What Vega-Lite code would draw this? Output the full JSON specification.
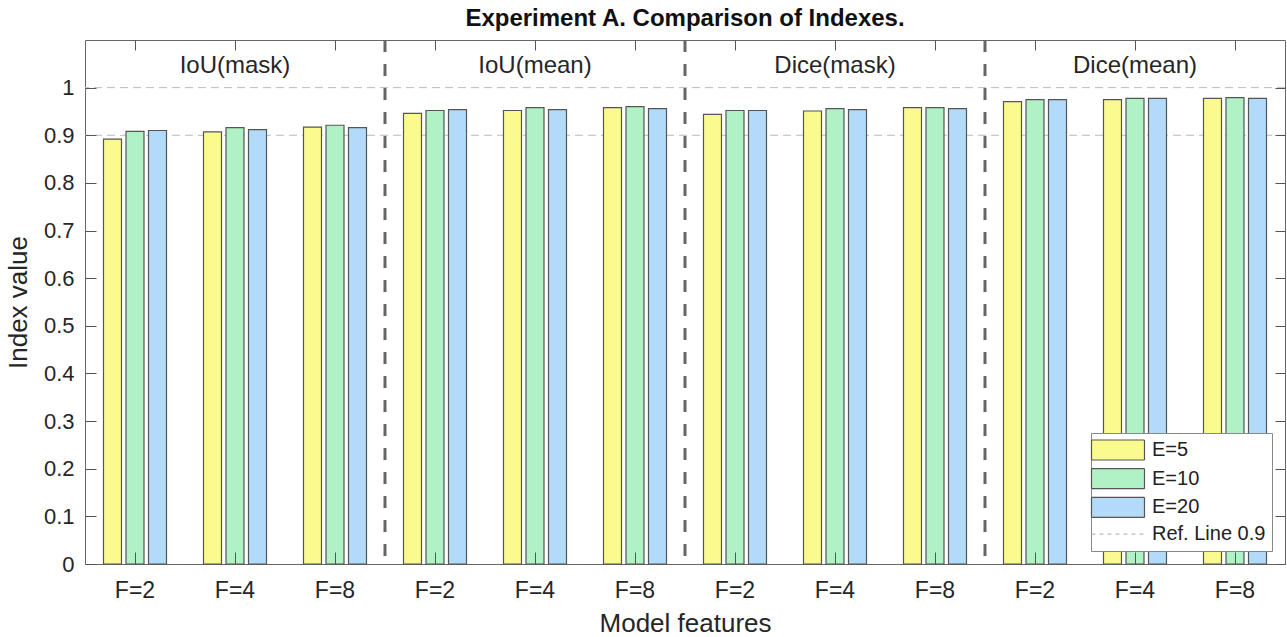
{
  "$schema": "https://vega.github.io/schema/vega-lite/v6.json",
  "width": 1200,
  "height": 524,
  "autosize": {"type": "none"},
  "padding": {"left": 85, "top": 40, "right": 2, "bottom": 73},
  "background": "white",
  "config": {
    "font": "Liberation Sans",
    "view": {"stroke": "#666666", "strokeWidth": 1},
    "axis": {"domain": false, "grid": false, "tickColor": "#555555", "labelColor": "#262626", "titleColor": "#262626", "labelFont": "Liberation Sans", "titleFont": "Liberation Sans", "titleFontWeight": "normal"}
  },
  "title": {"text": "Experiment A. Comparison of Indexes.", "fontSize": 24, "fontWeight": "bold", "font": "Liberation Sans", "color": "#111111", "anchor": "middle", "offset": 8},
  "datasets": {
    "bars": [
      {"m": "IoU(mask)", "F": "F=2", "E": "E=5", "v": 0.892, "g": "IoU(mask)|F=2"},
      {"m": "IoU(mask)", "F": "F=2", "E": "E=10", "v": 0.908, "g": "IoU(mask)|F=2"},
      {"m": "IoU(mask)", "F": "F=2", "E": "E=20", "v": 0.910, "g": "IoU(mask)|F=2"},
      {"m": "IoU(mask)", "F": "F=4", "E": "E=5", "v": 0.907, "g": "IoU(mask)|F=4"},
      {"m": "IoU(mask)", "F": "F=4", "E": "E=10", "v": 0.916, "g": "IoU(mask)|F=4"},
      {"m": "IoU(mask)", "F": "F=4", "E": "E=20", "v": 0.912, "g": "IoU(mask)|F=4"},
      {"m": "IoU(mask)", "F": "F=8", "E": "E=5", "v": 0.917, "g": "IoU(mask)|F=8"},
      {"m": "IoU(mask)", "F": "F=8", "E": "E=10", "v": 0.921, "g": "IoU(mask)|F=8"},
      {"m": "IoU(mask)", "F": "F=8", "E": "E=20", "v": 0.916, "g": "IoU(mask)|F=8"},
      {"m": "IoU(mean)", "F": "F=2", "E": "E=5", "v": 0.946, "g": "IoU(mean)|F=2"},
      {"m": "IoU(mean)", "F": "F=2", "E": "E=10", "v": 0.952, "g": "IoU(mean)|F=2"},
      {"m": "IoU(mean)", "F": "F=2", "E": "E=20", "v": 0.954, "g": "IoU(mean)|F=2"},
      {"m": "IoU(mean)", "F": "F=4", "E": "E=5", "v": 0.952, "g": "IoU(mean)|F=4"},
      {"m": "IoU(mean)", "F": "F=4", "E": "E=10", "v": 0.958, "g": "IoU(mean)|F=4"},
      {"m": "IoU(mean)", "F": "F=4", "E": "E=20", "v": 0.954, "g": "IoU(mean)|F=4"},
      {"m": "IoU(mean)", "F": "F=8", "E": "E=5", "v": 0.958, "g": "IoU(mean)|F=8"},
      {"m": "IoU(mean)", "F": "F=8", "E": "E=10", "v": 0.960, "g": "IoU(mean)|F=8"},
      {"m": "IoU(mean)", "F": "F=8", "E": "E=20", "v": 0.956, "g": "IoU(mean)|F=8"},
      {"m": "Dice(mask)", "F": "F=2", "E": "E=5", "v": 0.944, "g": "Dice(mask)|F=2"},
      {"m": "Dice(mask)", "F": "F=2", "E": "E=10", "v": 0.952, "g": "Dice(mask)|F=2"},
      {"m": "Dice(mask)", "F": "F=2", "E": "E=20", "v": 0.952, "g": "Dice(mask)|F=2"},
      {"m": "Dice(mask)", "F": "F=4", "E": "E=5", "v": 0.951, "g": "Dice(mask)|F=4"},
      {"m": "Dice(mask)", "F": "F=4", "E": "E=10", "v": 0.956, "g": "Dice(mask)|F=4"},
      {"m": "Dice(mask)", "F": "F=4", "E": "E=20", "v": 0.954, "g": "Dice(mask)|F=4"},
      {"m": "Dice(mask)", "F": "F=8", "E": "E=5", "v": 0.958, "g": "Dice(mask)|F=8"},
      {"m": "Dice(mask)", "F": "F=8", "E": "E=10", "v": 0.958, "g": "Dice(mask)|F=8"},
      {"m": "Dice(mask)", "F": "F=8", "E": "E=20", "v": 0.956, "g": "Dice(mask)|F=8"},
      {"m": "Dice(mean)", "F": "F=2", "E": "E=5", "v": 0.9705, "g": "Dice(mean)|F=2"},
      {"m": "Dice(mean)", "F": "F=2", "E": "E=10", "v": 0.975, "g": "Dice(mean)|F=2"},
      {"m": "Dice(mean)", "F": "F=2", "E": "E=20", "v": 0.975, "g": "Dice(mean)|F=2"},
      {"m": "Dice(mean)", "F": "F=4", "E": "E=5", "v": 0.975, "g": "Dice(mean)|F=4"},
      {"m": "Dice(mean)", "F": "F=4", "E": "E=10", "v": 0.9775, "g": "Dice(mean)|F=4"},
      {"m": "Dice(mean)", "F": "F=4", "E": "E=20", "v": 0.9775, "g": "Dice(mean)|F=4"},
      {"m": "Dice(mean)", "F": "F=8", "E": "E=5", "v": 0.9775, "g": "Dice(mean)|F=8"},
      {"m": "Dice(mean)", "F": "F=8", "E": "E=10", "v": 0.979, "g": "Dice(mean)|F=8"},
      {"m": "Dice(mean)", "F": "F=8", "E": "E=20", "v": 0.9775, "g": "Dice(mean)|F=8"}
    ],
    "refs": [{"y": 0.9}, {"y": 1.0}],
    "seps": [{"g": "IoU(mean)|F=2"}, {"g": "Dice(mask)|F=2"}, {"g": "Dice(mean)|F=2"}],
    "heads": [
      {"g": "IoU(mask)|F=4", "label": "IoU(mask)"},
      {"g": "IoU(mean)|F=4", "label": "IoU(mean)"},
      {"g": "Dice(mask)|F=4", "label": "Dice(mask)"},
      {"g": "Dice(mean)|F=4", "label": "Dice(mean)"}
    ]
  },
  "resolve": {"axis": {"x": "independent", "y": "independent"}},
  "layer": [
    {
      "data": {"name": "refs"},
      "mark": {"type": "rule", "color": "#bbbbbb", "strokeWidth": 1, "strokeDash": [8, 5]},
      "encoding": {
        "y": {"field": "y", "type": "quantitative", "scale": {"domain": [0, 1.1], "nice": false, "zero": true},
          "axis": {"orient": "right", "values": [0, 0.1, 0.2, 0.3, 0.4, 0.5, 0.6, 0.7, 0.8, 0.9, 1.0], "labels": false, "tickSize": -10, "title": null, "zindex": 1}}
      }
    },
    {
      "data": {"name": "bars"},
      "mark": {"type": "bar", "stroke": "#555555", "strokeWidth": 1.2},
      "encoding": {
        "x": {"field": "g", "type": "nominal",
          "scale": {"domain": ["IoU(mask)|F=2", "IoU(mask)|F=4", "IoU(mask)|F=8", "IoU(mean)|F=2", "IoU(mean)|F=4", "IoU(mean)|F=8", "Dice(mask)|F=2", "Dice(mask)|F=4", "Dice(mask)|F=8", "Dice(mean)|F=2", "Dice(mean)|F=4", "Dice(mean)|F=8"], "paddingInner": 0, "paddingOuter": 0},
          "axis": {"orient": "bottom", "labelExpr": "split(datum.label, '|')[1]", "labelAngle": 0, "labelFontSize": 23, "labelPadding": 27, "tickSize": -12, "title": "Model features", "titleFontSize": 26, "titlePadding": 8, "zindex": 1}},
        "xOffset": {"field": "E", "type": "nominal", "scale": {"domain": ["E=5", "E=10", "E=20"], "paddingInner": 0.2, "paddingOuter": 0.822}},
        "y": {"field": "v", "type": "quantitative", "scale": {"domain": [0, 1.1], "nice": false, "zero": true},
          "axis": {"orient": "left", "values": [0, 0.1, 0.2, 0.3, 0.4, 0.5, 0.6, 0.7, 0.8, 0.9, 1.0], "format": "~g", "labelFontSize": 22, "labelPadding": 22, "tickSize": -11, "title": "Index value", "titleFontSize": 26, "titlePadding": 12, "zindex": 1}},
        "color": {"field": "E", "type": "nominal",
          "scale": {"domain": ["E=5", "E=10", "E=20", "Ref. Line 0.9"], "range": ["#fafa8f", "#b0f2c6", "#b2dbf9", "#bbbbbb"]},
          "legend": {
            "title": null, "orient": "bottom-right", "offset": 13, "padding": 6,
            "strokeColor": "#888888", "fillColor": "white",
            "labelFont": "Liberation Sans", "labelFontSize": 20, "labelColor": "#222222", "labelOffset": 23,
            "rowPadding": 2.7, "symbolType": "M-2.65,-1H2.65V1H-2.65Z", "symbolSize": 400, "symbolOffset": 10,
            "symbolStrokeColor": "#555555", "symbolStrokeWidth": 1.2,
            "encode": {"symbols": {"update": {
              "shape": {"signal": "datum.value === 'Ref. Line 0.9' ? 'M-2.65,0H2.65' : 'M-2.65,-1H2.65V1H-2.65Z'"},
              "strokeDash": {"signal": "datum.value === 'Ref. Line 0.9' ? [4, 4] : [1, 0]"},
              "stroke": {"signal": "datum.value === 'Ref. Line 0.9' ? '#bbbbbb' : '#555555'"},
              "fill": {"signal": "datum.value === 'Ref. Line 0.9' ? 'transparent' : scale('color', datum.value)"}
            }}}
          }}
      }
    },
    {
      "data": {"name": "seps"},
      "mark": {"type": "rule", "color": "#666666", "strokeWidth": 3, "strokeDash": [12, 12]},
      "encoding": {
        "x": {"field": "g", "type": "nominal", "bandPosition": 0, "axis": null}
      }
    },
    {
      "data": {"name": "heads"},
      "mark": {"type": "text", "fontSize": 24, "font": "Liberation Sans", "color": "#262626", "baseline": "middle", "align": "center"},
      "encoding": {
        "x": {"field": "g", "type": "nominal", "axis": {"orient": "top", "labels": false, "tickSize": -10, "title": null, "zindex": 1}},
        "y": {"datum": 1.045, "type": "quantitative", "axis": null},
        "text": {"field": "label"}
      }
    }
  ]
}
